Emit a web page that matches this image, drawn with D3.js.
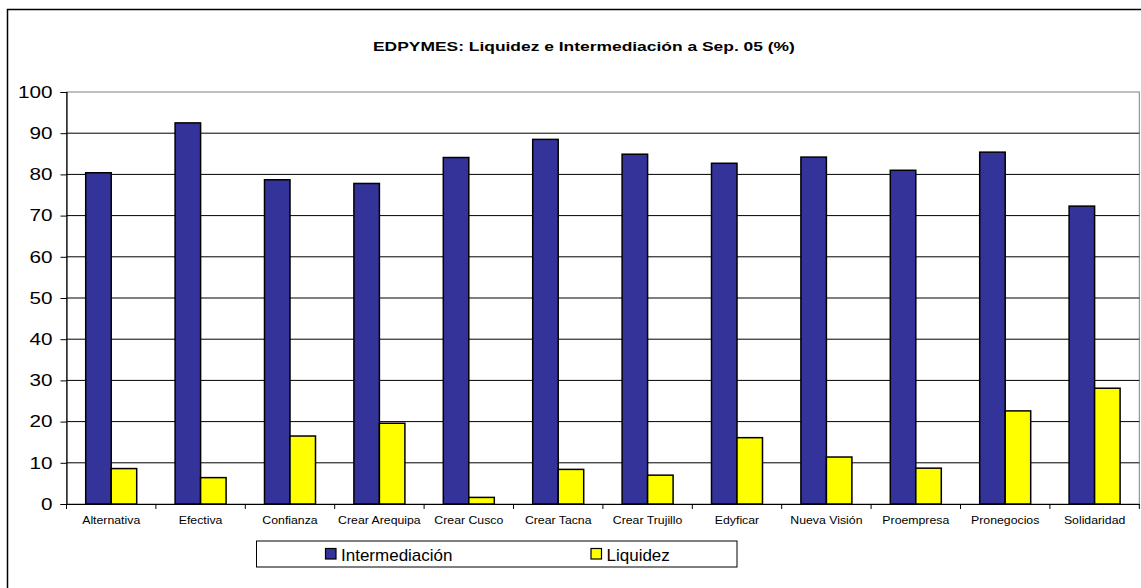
<!DOCTYPE html>
<html><head><meta charset="utf-8">
<script src="https://cdn.jsdelivr.net/npm/d3@7"></script>
<style>body{margin:0;background:#fff}svg{display:block}text{font-family:Arial,"Liberation Sans",sans-serif}</style>
</head><body>
<script>
const categories = ["Alternativa","Efectiva","Confianza","Crear Arequipa","Crear Cusco","Crear Tacna","Crear Trujillo","Edyficar","Nueva Visión","Proempresa","Pronegocios","Solidaridad"];
const intermediacion = [80.4,92.5,78.7,77.8,84.1,88.5,84.9,82.7,84.2,81.0,85.4,72.3];
const liquidez = [8.6,6.4,16.5,19.6,1.6,8.4,7.0,16.1,11.4,8.7,22.6,28.1];
const yTicks = [0,10,20,30,40,50,60,70,80,90,100];
const seriesNames = ["Intermediación","Liquidez"];
const seriesColors = ["#333399","#FFFF00"];

(function(){
const W = 1141, H = 588;
const SX = 1.24; // horizontal stretch of the original chart text
const svg = d3.select("body").append("svg").attr("width",W).attr("height",H);

// outer border
svg.append("rect").attr("x",7.5).attr("y",9.5).attr("width",W+10).attr("height",H+10)
  .attr("fill","#fff").attr("stroke","#000").attr("stroke-width",1.5);

const pL = 66.5, pR = 1139.3, pT = 92, pB = 504;
const x = d3.scaleBand().domain(categories).range([pL,pR]).paddingInner(0).paddingOuter(0);
const y = d3.scaleLinear().domain([0,100]).range([pB,pT]);

// title
svg.append("text").attr("transform","translate(373,51) scale(1.29,1)")
  .attr("font-size",13.5).attr("font-weight","bold").text("EDPYMES: Liquidez e Intermediación a Sep. 05 (%)");

// plot area border (gray)
svg.append("rect").attr("x",pL).attr("y",pT).attr("width",pR-pL).attr("height",pB-pT)
  .attr("fill","none").attr("stroke","#808080").attr("stroke-width",1);

// gridlines
svg.append("g").selectAll("line").data(yTicks.filter(d=>d>0 && d<100)).join("line")
  .attr("x1",pL).attr("x2",pR).attr("y1",d=>y(d)).attr("y2",d=>y(d))
  .attr("stroke","#000").attr("stroke-width",1);

// bars
const barW = 25.5;
const groups = svg.append("g").selectAll("g").data(categories).join("g");
groups.each(function(c,i){
  const cx = x(c) + x.bandwidth()/2;
  const g = d3.select(this);
  [intermediacion[i], liquidez[i]].forEach((v,k)=>{
    g.append("rect").attr("x", cx - barW + k*barW).attr("y", y(v))
      .attr("width", barW).attr("height", y(0)-y(v))
      .attr("fill", seriesColors[k]).attr("stroke","#000").attr("stroke-width",1.5);
  });
});

// y axis
const yAxis = d3.axisLeft(y).tickValues(yTicks).tickSize(6).tickPadding(8);
const ga = svg.append("g").attr("transform",`translate(${pL},0)`).call(yAxis);
ga.select(".domain").attr("stroke","#000").attr("stroke-width",1.2);
ga.selectAll(".tick line").attr("stroke","#000");
ga.selectAll(".tick text").each(function(){
  const t = d3.select(this); const tx = +t.attr("x");
  t.attr("x",0).attr("transform",`translate(${tx},0) scale(${SX+0.03},1)`);
}).attr("font-size",16.3).attr("fill","#000").attr("font-family","Arial,'Liberation Sans',sans-serif");

// x axis
const xAxis = d3.axisBottom(x).tickSize(0).tickPadding(13);
const gx = svg.append("g").attr("transform",`translate(0,${pB})`).call(xAxis);
gx.select(".domain").attr("stroke","#000").attr("stroke-width",1.2);
gx.selectAll(".tick text").attr("transform",`scale(${SX-0.01},1)`)
  .attr("font-size",10).attr("fill","#000").attr("font-family","Arial,'Liberation Sans',sans-serif");
// category separator ticks
svg.append("g").selectAll("line").data(categories.concat([null])).join("line")
  .attr("x1",(d,i)=> i<categories.length ? x(d) : pR)
  .attr("x2",(d,i)=> i<categories.length ? x(d) : pR)
  .attr("y1",pB).attr("y2",pB+5).attr("stroke","#000");

// legend
const lg = svg.append("g");
lg.append("rect").attr("x",256.5).attr("y",541).attr("width",480.5).attr("height",26)
  .attr("fill","#fff").attr("stroke","#000").attr("stroke-width",1);
const legendX = [325.5, 591];
seriesNames.forEach((n,k)=>{
  lg.append("rect").attr("x",legendX[k]).attr("y",548.5).attr("width",10.5).attr("height",10.5)
    .attr("fill",seriesColors[k]).attr("stroke","#000").attr("stroke-width",1.2);
  lg.append("text").attr("x",legendX[k]+15.5).attr("y",561).attr("font-size",17).text(n);
});
})();
</script>
</body></html>
